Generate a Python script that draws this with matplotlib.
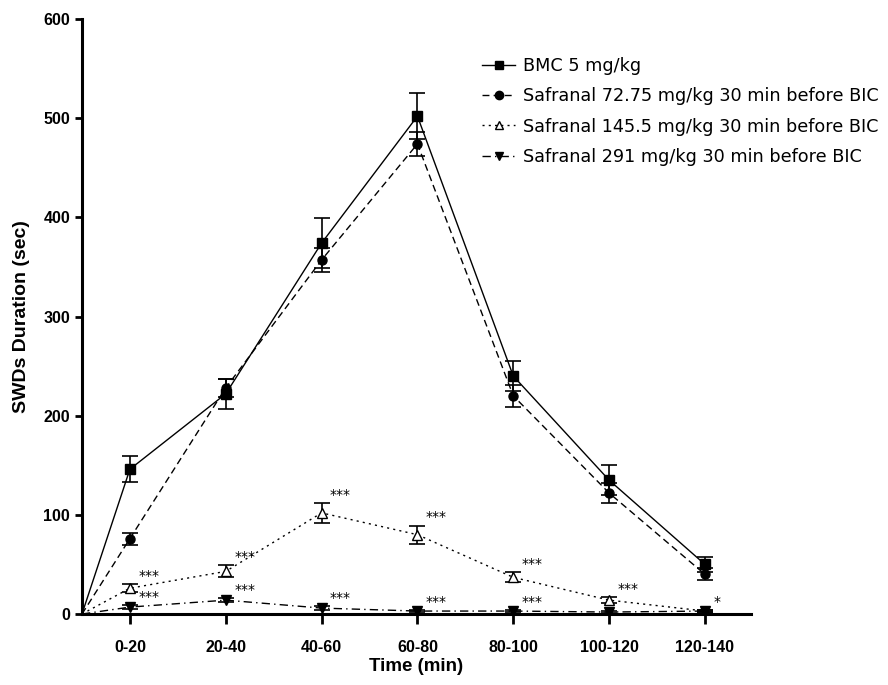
import matplotlib
matplotlib.use("Agg")
import matplotlib.pyplot as plt
from matplotlib.lines import Line2D
import numpy as np

# time bins (first point is the origin at time zero)
categories = ["0-20", "20-40", "40-60", "60-80", "80-100", "100-120", "120-140"]

bmc = [0, 146, 222, 374, 502, 240, 135, 50]
bmc_err = [0, 13, 15, 25, 23, 15, 15, 8]

saf_72 = [0, 76, 228, 357, 474, 220, 122, 40]
saf_72_err = [0, 6, 9, 12, 12, 11, 10, 6]

saf_145 = [0, 26, 43, 102, 80, 37, 14, 3]
saf_145_err = [0, 4, 6, 10, 9, 5, 3, 1]

saf_291 = [0, 7, 14, 6, 3, 3, 2, 3]
saf_291_err = [0, 2, 2, 2, 1, 1, 1, 1]

stars_145 = ["", "***", "***", "***", "***", "***", "***", ""]
stars_291 = ["", "***", "***", "***", "***", "***", "", "*"]

labels = ["BMC 5 mg/kg",
          "Safranal 72.75 mg/kg 30 min before BIC",
          "Safranal 145.5 mg/kg 30 min before BIC",
          "Safranal 291 mg/kg 30 min before BIC"]

x = np.concatenate([[0.5], np.arange(1, len(categories) + 1)])

fig = plt.figure(figsize=(8.88, 6.85), dpi=100)
ax = fig.add_axes([0.0923, 0.1036, 0.7534, 0.8687])

bold = dict(family=["Liberation Sans Narrow", "Liberation Sans", "DejaVu Sans"], weight="bold")

series = [
    (bmc, bmc_err, "s", "black", "-", 7),
    (saf_72, saf_72_err, "o", "black", (0, (5, 3)), 6.5),
    (saf_145, saf_145_err, "^", "white", (0, (1.5, 3)), 7),
    (saf_291, saf_291_err, "v", "black", (0, (6, 3, 1, 3)), 7),
]

handles = []
for (y, err, mk, fc, ls, ms), lab in zip(series, labels):
    ax.errorbar(x, y, yerr=err, color="black", linestyle=ls, linewidth=1.0,
                marker=mk, markersize=ms, markerfacecolor=fc, markeredgecolor="black",
                markevery=list(range(1, len(x))), capsize=6, elinewidth=1.2,
                capthick=1.2)
    handles.append(Line2D([], [], color="black", linestyle=ls, linewidth=1.0, marker=mk,
                          markersize=6, markerfacecolor=fc, markeredgecolor="black", label=lab))

for y, err, st in [(saf_145, saf_145_err, stars_145), (saf_291, saf_291_err, stars_291)]:
    for xi, yi, ei, s in zip(x, y, err, st):
        if s:
            ax.annotate(s, (xi, yi + ei), xytext=(6, 1), textcoords="offset points",
                        fontsize=10, ha="left", va="bottom", family="DejaVu Sans")

ax.set_xlim(0.5, 7.48)
ax.set_ylim(0, 600)
ax.set_yticks(range(0, 601, 100))
ax.set_xticks(np.arange(1, len(categories) + 1))
ax.set_xticklabels(categories)
for t in ax.get_xticklabels() + ax.get_yticklabels():
    t.set_fontproperties(dict(family=bold["family"], weight="bold", size=11.5))

ax.spines["top"].set_visible(False)
ax.spines["right"].set_visible(False)
ax.spines["left"].set_linewidth(2.2)
ax.spines["bottom"].set_linewidth(2.2)
ax.tick_params(axis="y", direction="out", length=5, width=2)
ax.tick_params(axis="x", direction="out", length=7, width=2, pad=12)

ax.set_xlabel("Time (min)", fontsize=13.5, labelpad=2, **bold)
ax.set_ylabel("SWDs Duration (sec)", fontsize=14, labelpad=10, **bold)

ax.legend(handles=handles, loc="upper left", bbox_to_anchor=(0.574, 0.963), frameon=False,
          prop=dict(family=["DejaVu Sans"], size=12.7),
          handlelength=1.9, labelspacing=0.7, handletextpad=0.45)

fig.savefig("out.png", dpi=100, facecolor="white")
